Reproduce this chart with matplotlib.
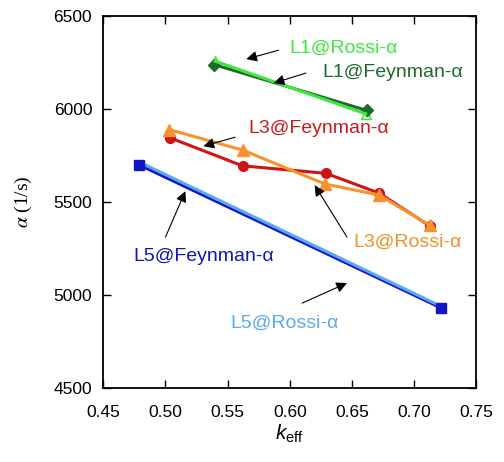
import numpy as np
import matplotlib
matplotlib.use("Agg")
import matplotlib.pyplot as plt

plt.rcParams["font.family"] = ["Liberation Sans", "DejaVu Sans"]
plt.rcParams["mathtext.fontset"] = "custom"
plt.rcParams["mathtext.rm"] = "Liberation Sans"
plt.rcParams["mathtext.it"] = "Liberation Sans:italic"

# --- Daten ----------------------------------------------------------
k_l1_fey = [0.539, 0.662]
a_l1_fey = [6240, 5993]
k_l1_ros = [0.540, 0.661]
a_l1_ros = [6258, 5975]

k_l3_fey = [0.504, 0.562, 0.629, 0.672, 0.7125]
a_l3_fey = [5845, 5695, 5655, 5548, 5372]
k_l3_ros = [0.503, 0.562, 0.628, 0.672, 0.7125]
a_l3_ros = [5890, 5780, 5598, 5538, 5375]

k_l5_fey = [0.479, 0.722]
a_l5_fey = [5700, 4930]
k_l5_ros = [0.480, 0.721]
a_l5_ros = [5712, 4942]

# Beschriftungen: (Text, Textposition, Pfeilspitze, Pfeilende, Farbe)
labels = [
    ("L1@Rossi-α", (0.600, 6325), (0.565, 6269), (0.591, 6317), "#3ee83e"),
    ("L1@Feynman-α", (0.626, 6196), (0.587, 6140), (0.613, 6194), "#1e6a2c"),
    ("L3@Feynman-α", (0.567, 5898), (0.5305, 5801), (0.556, 5849), "#cc1a1a"),
    ("L3@Rossi-α", (0.651, 5285), (0.620, 5591), (0.646, 5312), "#f39026"),
    ("L5@Feynman-α", (0.474, 5210), (0.516, 5559), (0.500, 5312), "#1414b8"),
    ("L5@Rossi-α", (0.552, 4850), (0.646, 5065), (0.610, 4957), "#5aaaf0"),
]

fig, ax = plt.subplots(figsize=(5.04, 4.62), dpi=100)
fig.subplots_adjust(left=0.205, right=0.945, bottom=0.16, top=0.965)

# L5
ax.plot(k_l5_fey, a_l5_fey, color="#1414c8", lw=2.2, zorder=2)
ax.plot(k_l5_ros, a_l5_ros, color="#5aaaf0", lw=2.2, zorder=3)
ax.plot(k_l5_fey, a_l5_fey, ls="none", marker="s", ms=7, color="#1414c8", zorder=4)

# L3
ax.plot(k_l3_fey, a_l3_fey, color="#d01414", lw=2.2, marker="o", ms=7, zorder=3)
ax.plot(k_l3_ros, a_l3_ros, color="#f7922c", lw=2.2, marker="^", ms=8, zorder=4)

# L1
ax.plot(k_l1_fey, a_l1_fey, color="#1e6a2c", lw=2.2, marker="D", ms=6, zorder=3)
ax.plot(k_l1_ros, a_l1_ros, color="#3ee83e", lw=2.2, zorder=4)
ax.plot(k_l1_ros, a_l1_ros, ls="none", marker="^", ms=7, mfc="#c8f5c8",
        mec="#3ee83e", zorder=2)

for txt, pos, tip, tail, col in labels:
    ax.annotate("", xy=tip, xytext=tail,
                arrowprops=dict(arrowstyle="-|>", color="black", lw=0.8,
                                mutation_scale=16, shrinkA=0, shrinkB=0),
                zorder=5)
    ax.text(pos[0], pos[1], txt, color=col, fontsize=14,
            ha="left", va="center", zorder=6)

ax.set_xlim(0.45, 0.75)
ax.set_ylim(4500, 6500)
ax.set_xticks(np.arange(0.45, 0.751, 0.05))
ax.set_xticklabels([f"{v:.2f}" for v in np.arange(0.45, 0.751, 0.05)])
ax.set_yticks([4500, 5000, 5500, 6000, 6500])

ax.tick_params(direction="in", top=True, right=True, length=6, width=1,
               labelsize=12.5)
ax.tick_params(axis="x", pad=12)
ax.tick_params(axis="y", pad=8)
for sp in ax.spines.values():
    sp.set_linewidth(1.3)

ax.set_xlabel(r"$k_{\mathrm{eff}}$", fontsize=15, labelpad=2)
ax.set_ylabel(r"$\alpha$ (1/s)", fontsize=14, family="Liberation Serif",
              math_fontfamily="stix", labelpad=14)

fig.savefig("out.png", dpi=100)
plt.close(fig)
